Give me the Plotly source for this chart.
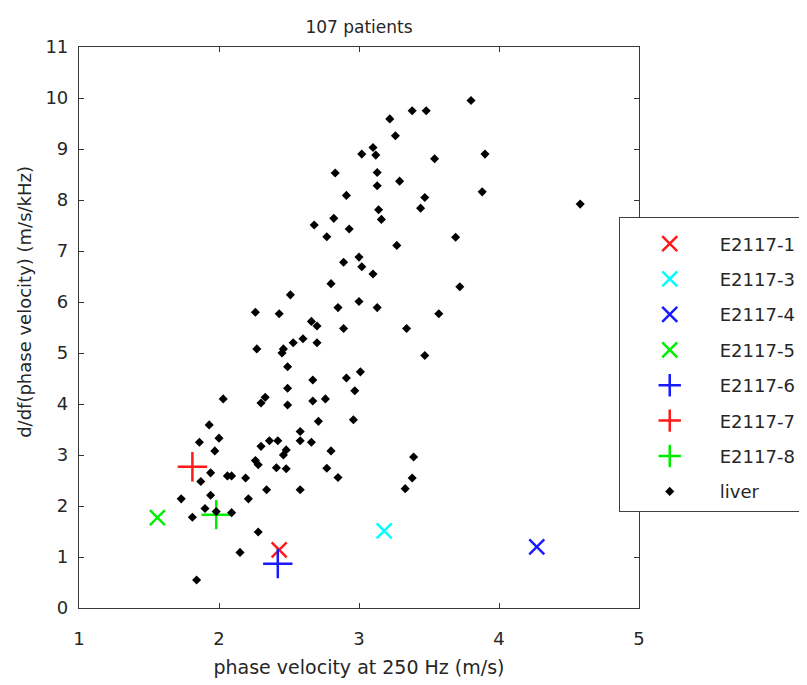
import plotly.graph_objects as go

# liver measurements (black diamonds)
liver_x = [2.83, 2.91, 2.82, 2.68, 2.93, 2.77, 2.89, 3.80, 3.38, 3.48,
           3.22, 3.26, 3.10, 3.02, 3.12, 3.54, 3.90, 3.13, 3.13, 3.29,
           3.47, 3.44, 3.88, 3.14, 3.16, 3.27, 3.69, 3.00, 3.02, 3.10,
           4.58, 2.80, 2.51, 2.85, 2.26, 2.43, 2.66, 2.70, 2.89, 2.60,
           2.53, 2.70, 2.27, 2.46, 2.45, 2.49, 2.91, 2.67, 2.49, 2.03,
           2.33, 2.30, 2.67, 2.76, 2.49, 2.71, 1.93, 2.58, 2.00, 1.86,
           2.36, 2.42, 2.58, 2.66, 2.30, 1.97, 2.48, 2.46, 2.80, 2.26,
           2.28, 2.41, 2.48, 3.72, 3.00, 3.13, 3.57, 3.34, 3.47, 3.01,
           2.97, 2.96, 3.39, 2.77, 2.85, 3.38, 3.33, 2.06, 2.09, 1.94,
           1.87, 2.19, 2.34, 2.58, 1.73, 1.94, 2.21, 1.90, 1.98, 2.09,
           1.81, 2.28, 2.15, 1.84]
liver_y = [8.53, 8.09, 7.64, 7.51, 7.43, 7.28, 6.78, 9.95, 9.75, 9.75,
           9.59, 9.26, 9.03, 8.90, 8.88, 8.81, 8.90, 8.54, 8.28, 8.37,
           8.05, 7.84, 8.16, 7.81, 7.62, 7.11, 7.27, 6.88, 6.69, 6.55,
           7.92, 6.36, 6.14, 5.89, 5.80, 5.77, 5.62, 5.53, 5.48, 5.28,
           5.20, 5.20, 5.08, 5.08, 5.00, 4.73, 4.51, 4.47, 4.31, 4.10,
           4.13, 4.02, 4.06, 4.10, 3.98, 3.66, 3.59, 3.46, 3.33, 3.25,
           3.28, 3.28, 3.28, 3.25, 3.17, 3.08, 3.10, 3.00, 3.08, 2.89,
           2.81, 2.75, 2.73, 6.30, 6.01, 5.89, 5.77, 5.48, 4.95, 4.63,
           4.26, 3.69, 2.96, 2.74, 2.56, 2.55, 2.34, 2.59, 2.59, 2.65,
           2.48, 2.55, 2.32, 2.32, 2.14, 2.21, 2.14, 1.95, 1.89, 1.87,
           1.78, 1.49, 1.09, 0.55]

# individual cases
case_names = ['E2117-1', 'E2117-3', 'E2117-4', 'E2117-5', 'E2117-6', 'E2117-7', 'E2117-8']
case_x = [2.43, 3.18, 4.27, 1.56, 2.42, 1.81, 1.98]
case_y = [1.14, 1.51, 1.20, 1.77, 0.87, 2.77, 1.83]
case_symbol = ['x-thin', 'x-thin', 'x-thin', 'x-thin', 'cross-thin', 'cross-thin', 'cross-thin']
case_color = ['#ff1a1a', '#00ffff', '#1a1aff', '#00ee00', '#1a1aff', '#ff1a1a', '#00ee00']

fig = go.Figure()

for i in range(len(case_names)):
    big = case_symbol[i] == 'cross-thin'
    fig.add_trace(go.Scatter(
        x=[case_x[i]], y=[case_y[i]],
        mode='markers', name=case_names[i], legendgroup=case_names[i],
        marker=dict(symbol=case_symbol[i], size=21 if big else 15,
                    color=case_color[i],
                    line=dict(color=case_color[i], width=2.5))
    ))

fig.add_trace(go.Scatter(
    x=liver_x, y=liver_y, mode='markers', name='liver', legendgroup='liver',
    marker=dict(symbol='diamond', size=7, color='black')
))

axis_style = dict(
    showline=True, linecolor='#383838', linewidth=1.2, mirror='ticks',
    ticks='inside', ticklen=5, tickcolor='#383838',
    showgrid=False, zeroline=False, dtick=1,
)

# page body has an 8px margin, so the figure is trimmed by that much
fig.update_layout(
    width=799, height=677,
    margin=dict(l=71, r=168, t=39, b=77, autoexpand=False),
    plot_bgcolor='white', paper_bgcolor='white',
    font=dict(family='DejaVu Sans', size=18, color='#262626'),
    title=dict(text='107 patients', x=0.5, xref='paper', xanchor='center',
               y=1 - 19 / 677, yref='container', yanchor='middle',
               font=dict(size=17, color='#262626')),
    xaxis=dict(axis_style, range=[1, 5], ticklabelstandoff=14,
               title=dict(text='phase velocity at 250 Hz (m/s)', standoff=12,
                          font=dict(size=19))),
    yaxis=dict(axis_style, range=[0, 11], ticklabelstandoff=6),
    legend=dict(x=0.9638, y=0.6977, xanchor='left', yanchor='top',
                bgcolor='white', bordercolor='#404040', borderwidth=1,
                traceorder='grouped', tracegroupgap=9, itemwidth=90,
                title=dict(text=' ', font=dict(size=6)),
                font=dict(size=18)),
    annotations=[dict(text='d/df(phase velocity) (m/s/kHz)', textangle=-90,
                      xref='paper', yref='paper', x=0, y=0.5457,
                      xanchor='center', yanchor='middle', xshift=-54,
                      showarrow=False, font=dict(size=18, color='#262626'))],
)

fig.write_html("out.html")
